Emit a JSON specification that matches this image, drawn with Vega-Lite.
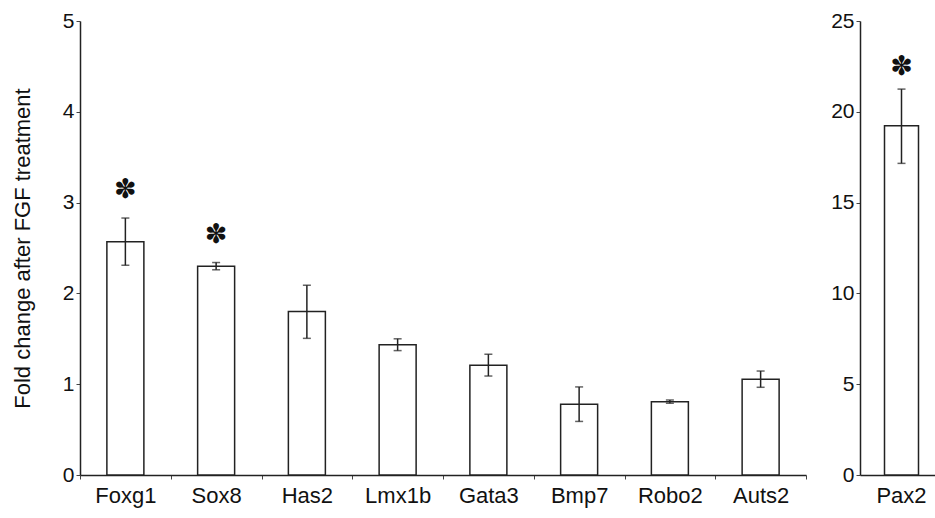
{
  "$schema": "https://vega.github.io/schema/vega-lite/v6.json",
  "background": "white",
  "padding": {"left": 11, "top": 10, "right": 0, "bottom": 5},
  "spacing": 23,
  "datasets": {
    "left": [
      {"gene": "Foxg1", "mean": 2.57, "lo": 2.31, "hi": 2.83, "sig": "✽"},
      {"gene": "Sox8", "mean": 2.30, "lo": 2.26, "hi": 2.34, "sig": "✽"},
      {"gene": "Has2", "mean": 1.80, "lo": 1.505, "hi": 2.09, "sig": ""},
      {"gene": "Lmx1b", "mean": 1.435, "lo": 1.37, "hi": 1.50, "sig": ""},
      {"gene": "Gata3", "mean": 1.21, "lo": 1.09, "hi": 1.33, "sig": ""},
      {"gene": "Bmp7", "mean": 0.78, "lo": 0.59, "hi": 0.97, "sig": ""},
      {"gene": "Robo2", "mean": 0.807, "lo": 0.79, "hi": 0.826, "sig": ""},
      {"gene": "Auts2", "mean": 1.054, "lo": 0.966, "hi": 1.145, "sig": ""}
    ],
    "right": [
      {"gene": "Pax2", "mean": 19.23, "lo": 17.16, "hi": 21.25, "sig": "✽"}
    ]
  },
  "config": {
    "view": {"stroke": null},
    "font": "Liberation Sans",
    "axis": {
      "grid": false,
      "domainColor": "#222",
      "domainWidth": 1.5,
      "tickColor": "#444",
      "tickWidth": 1,
      "labelColor": "#111",
      "labelFont": "Liberation Sans",
      "titleFont": "Liberation Sans",
      "titleFontWeight": "normal",
      "titleColor": "#111"
    }
  },
  "hconcat": [
    {
      "width": 726,
      "height": 454,
      "data": {"name": "left"},
      "encoding": {
        "x": {
          "field": "gene", "type": "nominal", "sort": null,
          "scale": {"paddingInner": 0, "paddingOuter": 0},
          "axis": {"title": null, "labelAngle": 0, "tickBand": "extent", "tickSize": 4, "labelPadding": 6, "labelFontSize": 22}
        }
      },
      "layer": [
        {
          "mark": {"type": "bar", "size": 37, "fill": "white", "stroke": "#222", "strokeWidth": 1.5},
          "encoding": {
            "y": {
              "field": "mean", "type": "quantitative",
              "scale": {"domain": [0, 5], "nice": false},
              "axis": {"values": [0, 1, 2, 3, 4, 5], "format": "d", "tickSize": 4, "labelPadding": 2, "labelFontSize": 21, "title": "Fold change after FGF treatment", "titleFontSize": 22, "titlePadding": 28}
            }
          }
        },
        {
          "mark": {"type": "rule", "stroke": "#222", "strokeWidth": 1.5},
          "encoding": {"y": {"field": "lo", "type": "quantitative"}, "y2": {"field": "hi"}}
        },
        {
          "mark": {"type": "tick", "size": 8, "thickness": 1.5, "color": "#222", "orient": "horizontal"},
          "encoding": {"y": {"field": "lo", "type": "quantitative"}}
        },
        {
          "mark": {"type": "tick", "size": 8, "thickness": 1.5, "color": "#222", "orient": "horizontal"},
          "encoding": {"y": {"field": "hi", "type": "quantitative"}}
        },
        {
          "mark": {"type": "text", "font": "DejaVu Sans", "fontSize": 27, "baseline": "middle", "dy": -28, "color": "#111"},
          "encoding": {"y": {"field": "hi", "type": "quantitative"}, "text": {"field": "sig"}}
        }
      ]
    },
    {
      "width": 83,
      "height": 454,
      "data": {"name": "right"},
      "encoding": {
        "x": {
          "field": "gene", "type": "nominal", "sort": null,
          "scale": {"paddingInner": 0, "paddingOuter": 0},
          "axis": {"title": null, "labelAngle": 0, "ticks": false, "labelPadding": 10, "labelFontSize": 22}
        }
      },
      "layer": [
        {
          "mark": {"type": "bar", "size": 34, "fill": "white", "stroke": "#222", "strokeWidth": 1.5},
          "encoding": {
            "y": {
              "field": "mean", "type": "quantitative",
              "scale": {"domain": [0, 25], "nice": false},
              "axis": {"values": [0, 5, 10, 15, 20, 25], "format": "d", "tickSize": 4, "labelPadding": 2, "labelFontSize": 21, "title": null}
            }
          }
        },
        {
          "mark": {"type": "rule", "stroke": "#222", "strokeWidth": 1.5},
          "encoding": {"y": {"field": "lo", "type": "quantitative"}, "y2": {"field": "hi"}}
        },
        {
          "mark": {"type": "tick", "size": 8, "thickness": 1.5, "color": "#222", "orient": "horizontal"},
          "encoding": {"y": {"field": "lo", "type": "quantitative"}}
        },
        {
          "mark": {"type": "tick", "size": 8, "thickness": 1.5, "color": "#222", "orient": "horizontal"},
          "encoding": {"y": {"field": "hi", "type": "quantitative"}}
        },
        {
          "mark": {"type": "text", "font": "DejaVu Sans", "fontSize": 27, "baseline": "middle", "dy": -22, "color": "#111"},
          "encoding": {"y": {"field": "hi", "type": "quantitative"}, "text": {"field": "sig"}}
        }
      ]
    }
  ]
}
